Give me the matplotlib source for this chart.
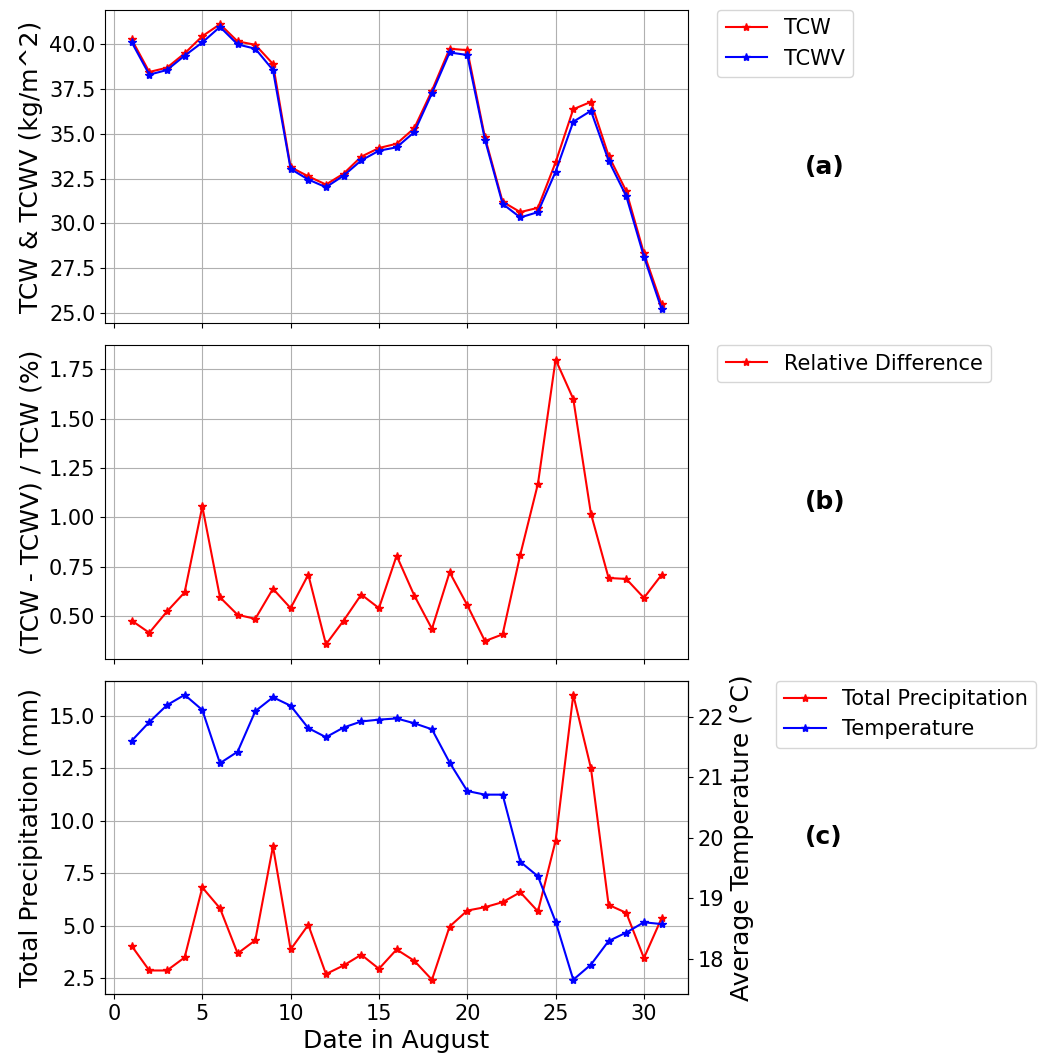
import matplotlib
matplotlib.use("Agg")
import matplotlib.pyplot as plt
from matplotlib.ticker import MultipleLocator

days = list(range(1, 32))

tcw = [40.28, 38.46, 38.70, 39.50, 40.46, 41.13, 40.17, 39.98, 38.91, 33.14,
       32.63, 32.17, 32.78, 33.73, 34.21, 34.45, 35.32, 37.42, 39.76, 39.68,
       34.81, 31.21, 30.63, 30.87, 33.41, 36.38, 36.79, 33.78, 31.80, 28.33, 25.47]
tcwv = [40.13, 38.31, 38.57, 39.37, 40.11, 40.98, 40.00, 39.76, 38.57, 33.04,
        32.45, 32.02, 32.67, 33.52, 34.06, 34.25, 35.10, 37.27, 39.55, 39.41,
        34.68, 31.09, 30.33, 30.63, 32.89, 35.68, 36.29, 33.51, 31.52, 28.14, 25.21]
rel_diff = [0.476, 0.414, 0.522, 0.619, 1.055, 0.594, 0.505, 0.485, 0.637, 0.539,
            0.709, 0.355, 0.476, 0.608, 0.539, 0.805, 0.603, 0.434, 0.721, 0.554,
            0.372, 0.406, 0.810, 1.170, 1.800, 1.600, 1.018, 0.692, 0.687, 0.591, 0.708]
precip = [4.05, 2.88, 2.88, 3.50, 6.83, 5.84, 3.69, 4.32, 8.78, 3.88,
          5.05, 2.71, 3.12, 3.63, 2.96, 3.88, 3.34, 2.44, 4.97, 5.73,
          5.89, 6.13, 6.60, 5.69, 9.05, 15.99, 12.50, 6.00, 5.62, 3.47, 5.37]
temp = [21.60, 21.91, 22.19, 22.36, 22.11, 21.23, 21.42, 22.09, 22.32, 22.18,
        21.81, 21.66, 21.82, 21.92, 21.95, 21.97, 21.89, 21.79, 21.24, 20.77,
        20.71, 20.71, 19.60, 19.36, 18.61, 17.65, 17.90, 18.29, 18.43, 18.60, 18.57]

FS_TICK = 15
FS_LAB = 18
FS_LEG = 15
FS_TAG = 18

fig, axes = plt.subplots(3, 1, figsize=(10.41, 10.59), dpi=100, sharex=True)
fig.subplots_adjust(left=0.101, right=0.661, top=0.9906, bottom=0.0614, hspace=0.07)

ax1, ax2, ax3 = axes

ax1.plot(days, tcw, color='red', marker='*', label='TCW')
ax1.plot(days, tcwv, color='blue', marker='*', label='TCWV')
ax1.set_ylabel('TCW & TCWV (kg/m^2)', fontsize=FS_LAB)
ax1.grid(True)
ax1.yaxis.set_major_locator(MultipleLocator(2.5))
ax1.legend(loc='upper left', bbox_to_anchor=(1.05, 1), borderaxespad=0, fontsize=FS_LEG)
ax1.text(1.2, 0.5, '(a)', transform=ax1.transAxes, fontsize=FS_TAG, fontweight='bold', va='center')

ax2.plot(days, rel_diff, color='red', marker='*', label='Relative Difference')
ax2.set_ylabel('(TCW - TCWV) / TCW (%)', fontsize=FS_LAB)
ax2.grid(True)
ax2.yaxis.set_major_locator(MultipleLocator(0.25))
ax2.legend(loc='upper left', bbox_to_anchor=(1.05, 1), borderaxespad=0, fontsize=FS_LEG)
ax2.text(1.2, 0.5, '(b)', transform=ax2.transAxes, fontsize=FS_TAG, fontweight='bold', va='center')

l1, = ax3.plot(days, precip, color='red', marker='*', label='Total Precipitation')
ax3.set_ylabel('Total Precipitation (mm)', fontsize=FS_LAB)
ax3.set_xlabel('Date in August', fontsize=FS_LAB)
ax3.grid(True)
ax3.yaxis.set_major_locator(MultipleLocator(2.5))
ax3t = ax3.twinx()
l2, = ax3t.plot(days, temp, color='blue', marker='*', label='Temperature')
ax3t.set_ylabel('Average Temperature (°C)', fontsize=FS_LAB)
ax3t.yaxis.set_major_locator(MultipleLocator(1))
ax3.legend(handles=[l1, l2], loc='upper left', bbox_to_anchor=(1.15, 1), borderaxespad=0, fontsize=FS_LEG)
ax3.text(1.2, 0.5, '(c)', transform=ax3.transAxes, fontsize=FS_TAG, fontweight='bold', va='center')

for ax in [ax1, ax2, ax3, ax3t]:
    ax.tick_params(labelsize=FS_TICK)

fig.savefig('out.png', dpi=100)
